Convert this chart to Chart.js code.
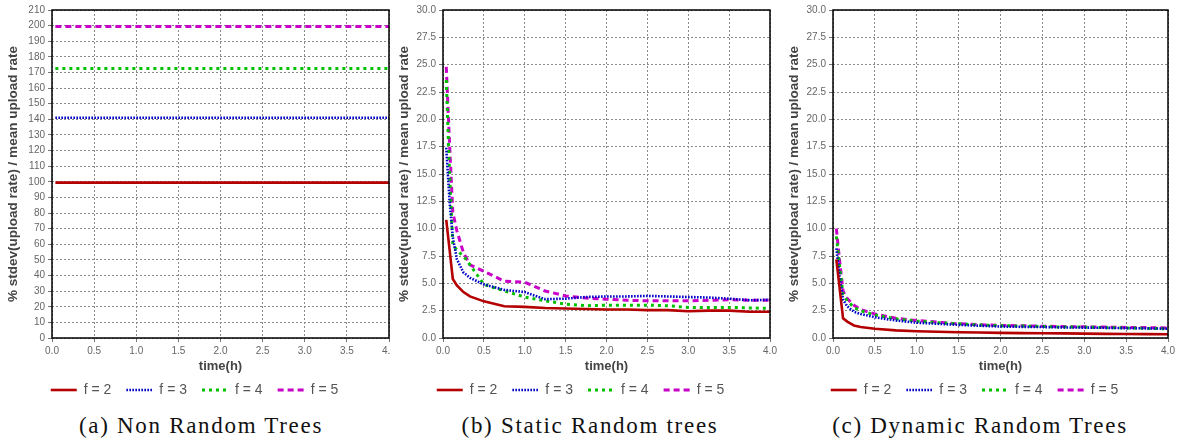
<!DOCTYPE html>
<html>
<head>
<meta charset="utf-8">
<script src="https://cdn.jsdelivr.net/npm/chart.js@4/dist/chart.umd.min.js"></script>
<style>
  html, body { margin: 0; padding: 0; background: #fff; }
  #page { position: relative; width: 1182px; height: 444px; overflow: hidden; background: #fff; }
  .panel { position: absolute; top: 0; overflow: hidden; }
  .caption { position: absolute; top: 413px; font-family: "Liberation Serif", serif; font-size: 23px; letter-spacing: 1.7px; color: #111; text-align: center; white-space: nowrap; }
</style>
</head>
<body>
<div id="page">
  <div class="panel" style="left:0;width:391px;height:407px"><canvas id="chartA" width="391" height="407"></canvas></div>
  <div class="panel" style="left:391px;width:390px;height:407px"><canvas id="chartB" width="390" height="407"></canvas></div>
  <div class="panel" style="left:781px;width:401px;height:407px"><canvas id="chartC" width="401" height="407"></canvas></div>
  <div class="caption" style="left:0;width:402px">(a) Non Random Trees</div>
  <div class="caption" style="left:391px;width:398px">(b) Static Random trees</div>
  <div class="caption" style="left:781px;width:398px">(c) Dynamic Random Trees</div>
</div>
<script>
// series labels
const fLabels = ['f = 2', 'f = 3', 'f = 4', 'f = 5'];

// (a) non random trees: flat lines
const timeA = [0.04, 4.0];
const aF2 = [99.5, 99.5];
const aF3 = [141, 141];
const aF4 = [172.5, 172.5];
const aF5 = [199.5, 199.5];

// (b) and (c) share the same sample times (hours)
const timeBC = [0.04, 0.08, 0.12, 0.17, 0.25, 0.33, 0.5, 0.75, 1.0, 1.25, 1.5, 1.75, 2.0, 2.25, 2.5, 2.75, 3.0, 3.25, 3.5, 3.75, 4.0];

// (b) static random trees
const bF2 = [10.8, 8.1, 5.4, 4.8, 4.2, 3.8, 3.35, 2.9, 2.85, 2.75, 2.7, 2.65, 2.6, 2.6, 2.55, 2.55, 2.45, 2.5, 2.5, 2.4, 2.4];
const bF3 = [17.4, 12.5, 9.2, 7.2, 6.0, 5.5, 4.9, 4.4, 4.2, 3.55, 3.6, 3.75, 3.8, 3.8, 3.85, 3.8, 3.75, 3.7, 3.6, 3.45, 3.5];
const bF4 = [23.6, 15.0, 8.6, 8.0, 7.5, 6.7, 4.9, 4.3, 3.75, 3.4, 3.1, 2.95, 3.0, 3.0, 3.0, 2.95, 2.8, 2.8, 2.8, 2.75, 2.7];
const bF5 = [24.8, 17.8, 11.5, 9.8, 7.8, 6.7, 6.1, 5.2, 5.1, 4.3, 3.85, 3.65, 3.55, 3.45, 3.4, 3.4, 3.4, 3.45, 3.5, 3.45, 3.45];

// (c) dynamic random trees
const cF2 = [7.2, 4.5, 1.8, 1.5, 1.15, 1.0, 0.85, 0.7, 0.62, 0.57, 0.52, 0.5, 0.47, 0.45, 0.43, 0.42, 0.4, 0.38, 0.37, 0.35, 0.34];
const cF3 = [8.2, 5.5, 3.5, 2.9, 2.4, 2.2, 1.9, 1.6, 1.4, 1.3, 1.2, 1.12, 1.05, 1.02, 1.0, 0.97, 0.95, 0.93, 0.9, 0.88, 0.85];
const cF4 = [9.3, 6.5, 4.0, 3.4, 2.8, 2.5, 2.1, 1.75, 1.55, 1.4, 1.3, 1.2, 1.12, 1.1, 1.05, 1.0, 1.0, 0.95, 0.92, 0.88, 0.84];
const cF5 = [10.0, 7.0, 4.3, 3.6, 3.0, 2.6, 2.2, 1.8, 1.6, 1.45, 1.3, 1.22, 1.15, 1.12, 1.08, 1.05, 1.02, 1.0, 0.97, 0.95, 0.92];

const xTicks = { min: 0, max: 4, step: 0.5 };

const styles = [
    { color: '#b40000', width: 2.6, dash: [] },
    { color: '#0000c8', width: 2.6, dash: [1.6, 1.4] },
    { color: '#00c000', width: 3, dash: [3, 4] },
    { color: '#c800c8', width: 3, dash: [6, 4] }
];

const sans = 'Liberation Sans, Arial, sans-serif';

// black frame around the plot area
const framePlugin = {
    id: 'frame',
    afterDatasetsDraw(chart) {
        const { ctx, chartArea: a } = chart;
        ctx.save();
        ctx.strokeStyle = '#000';
        ctx.lineWidth = 1.5;
        ctx.strokeRect(a.left, a.top, a.right - a.left, a.bottom - a.top);
        ctx.restore();
    }
};

function toPoints(times, vals) {
    return times.map((t, i) => ({ x: t, y: vals[i] }));
}

// legend swatches keep the dash of their line
function legendLabels(chart) {
    return chart.data.datasets.map((ds, i) => ({
        text: ds.label,
        datasetIndex: i,
        fillStyle: ds.borderColor,
        strokeStyle: ds.borderColor,
        lineWidth: ds.borderWidth,
        lineDash: ds.borderDash,
        lineCap: 'butt',
        pointStyle: 'line',
        fontColor: '#555',
        hidden: false
    }));
}

function makeChart(id, times, series, yMax, yStep, yDecimals, rightPad) {
    const datasets = series.map((vals, i) => ({
        label: fLabels[i],
        data: toPoints(times, vals),
        borderColor: styles[i].color,
        backgroundColor: styles[i].color,
        borderWidth: styles[i].width,
        borderDash: styles[i].dash,
        pointRadius: 0,
        tension: 0,
        fill: false
    }));

    return new Chart(document.getElementById(id), {
        type: 'line',
        data: { datasets },
        plugins: [framePlugin],
        options: {
            responsive: false,
            animation: false,
            devicePixelRatio: 1,
            layout: { padding: { left: 0, right: rightPad, top: 10, bottom: 0 } },
            plugins: {
                tooltip: { enabled: false },
                legend: {
                    position: 'bottom',
                    labels: {
                        usePointStyle: true,
                        pointStyle: 'line',
                        pointStyleWidth: 26,
                        padding: 15,
                        color: '#555',
                        font: { family: sans, size: 14 },
                        generateLabels: legendLabels
                    }
                }
            },
            scales: {
                x: {
                    type: 'linear',
                    min: xTicks.min,
                    max: xTicks.max,
                    afterFit: s => { s.height = 30; s.paddingLeft = 0; s.paddingRight = 0; },
                    ticks: {
                        stepSize: xTicks.step,
                        autoSkip: false,
                        maxRotation: 0,
                        padding: 3,
                        color: '#666',
                        font: { family: sans, size: 10 },
                        callback: v => v.toFixed(1)
                    },
                    grid: { color: '#8a8a8a', lineWidth: 1, tickLength: 4, tickColor: '#777', tickBorderDash: [] },
                    border: { display: false, dash: [2, 2] },
                    title: {
                        display: true,
                        text: 'time(h)',
                        color: '#444',
                        padding: { top: 0, bottom: -4.5 },
                        font: { family: sans, size: 13, weight: 'bold', lineHeight: 1 }
                    }
                },
                y: {
                    min: 0,
                    max: yMax,
                    afterFit: s => { s.width = 52; },
                    ticks: {
                        stepSize: yStep,
                        maxTicksLimit: 100,
                        autoSkip: false,
                        padding: 3,
                        color: '#666',
                        font: { family: sans, size: 10 },
                        callback: v => v.toFixed(yDecimals)
                    },
                    grid: { color: '#8a8a8a', lineWidth: 1, tickLength: 4, tickColor: '#777', tickBorderDash: [] },
                    border: { display: false, dash: [2, 2] },
                    title: {
                        display: true,
                        text: '% stdev(upload rate) / mean upload rate',
                        color: '#444',
                        padding: { top: 6.5, bottom: 0 },
                        font: { family: sans, size: 13.5, weight: 'bold', lineHeight: 1 }
                    }
                }
            }
        }
    });
}

makeChart('chartA', timeA, [aF2, aF3, aF4, aF5], 210, 10, 0, 2);
makeChart('chartB', timeBC, [bF2, bF3, bF4, bF5], 30, 2.5, 1, 11);
makeChart('chartC', timeBC, [cF2, cF3, cF4, cF5], 30, 2.5, 1, 14);
</script>
</body>
</html>
